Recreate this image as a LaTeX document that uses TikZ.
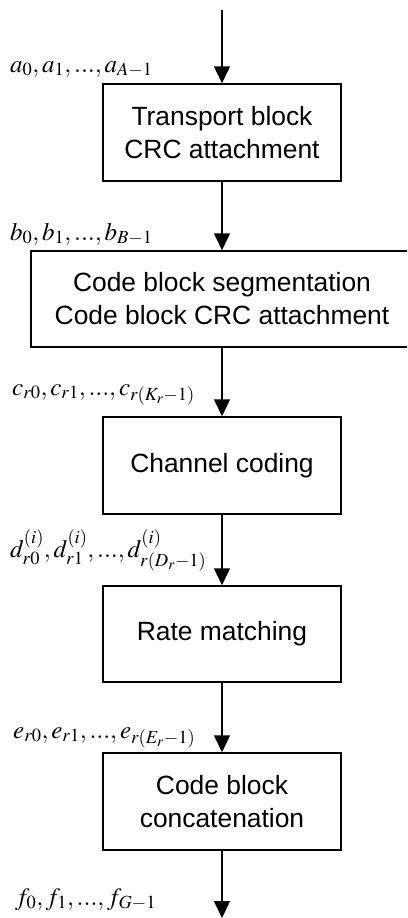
\documentclass[tikz,border=0pt]{standalone}
\usepackage{mathptmx}
\usepackage[no-math]{fontspec}
\newfontfamily\boxfont{Liberation Sans}
\usetikzlibrary{arrows.meta}
\tikzset{
  blk/.style={draw, line width=1.5pt, inner sep=0pt, align=center,
    font=\boxfont\fontsize{26.4}{33}\selectfont},
  lbl/.style={inner sep=0pt, anchor=base west, font=\fontsize{25}{30}\selectfont},
  flow/.style={line width=1.5pt, -{Triangle[length=17pt,width=16pt]}}
}
\begin{document}
\begin{tikzpicture}[x=1pt,y=-1pt]
\clip (0,0) rectangle (407,918);
\useasboundingbox (0,0) rectangle (407,918);
\node[blk, minimum width=238pt, minimum height=97pt] (b1) at (222,132.5) {Transport block\\CRC attachment};
\node[blk, minimum width=382pt, minimum height=96pt] (b2) at (222,299) {Code block segmentation\\Code block CRC attachment};
\node[blk, minimum width=238pt, minimum height=97pt] (b3) at (222,465.5) {Channel coding};
\node[blk, minimum width=238pt, minimum height=96pt] (b4) at (222,634) {Rate matching};
\node[blk, minimum width=238pt, minimum height=97pt] (b5) at (222,801.5) {Code block\\concatenation};
\coordinate (in) at (222,10);
\coordinate (out) at (222,918);
\draw[flow] (in) -- (b1.north);
\draw[flow] (b1.south) -- (b2.north);
\draw[flow] (b2.south) -- (b3.north);
\draw[flow] (b3.south) -- (b4.north);
\draw[flow] (b4.south) -- (b5.north);
\draw[flow] (b5.south) -- (out);
\node[lbl] (la) at (10,72) {$a_0,a_1,...,a_{A-1}$};
\node[lbl] (lb) at (10,240) {$b_0,b_1,...,b_{B-1}$};
\node[lbl] (lc) at (12,395) {$c_{r0},c_{r1},...,c_{r\left(K_r-1\right)}$};
\node[lbl] (ld) at (10,557) {$d_{r0}^{(i)},d_{r1}^{(i)},...,d_{r\left(D_r-1\right)}^{(i)}$};
\node[lbl] (le) at (13,738) {$e_{r0},e_{r1},...,e_{r\left(E_r-1\right)}$};
\node[lbl] (lf) at (15,905) {$f_0,f_1,...,f_{G-1}$};
\end{tikzpicture}
\end{document}
